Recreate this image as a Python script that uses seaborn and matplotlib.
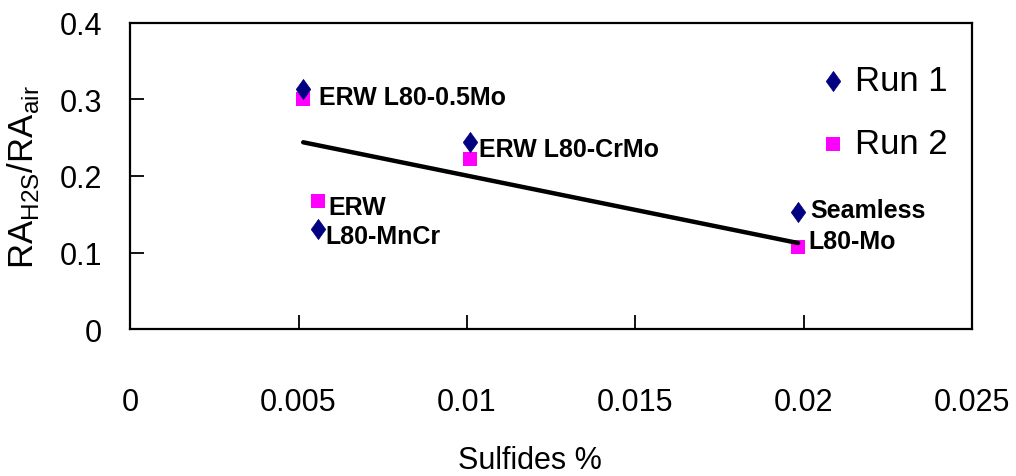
import matplotlib
matplotlib.use("Agg")
import matplotlib.pyplot as plt
from matplotlib.path import Path
import seaborn as sns
import pandas as pd

# Sulfide content of each pipe grade and the ratio measured in two runs
grades = ["ERW L80-0.5Mo", "ERW L80-CrMo", "ERW L80-MnCr", "Seamless L80-Mo"]
sulfides = [0.00514, 0.0101, 0.00558, 0.01983]
run1 = [0.314, 0.244, 0.131, 0.153]
run2 = [0.300, 0.222, 0.167, 0.107]

# Point labels: (text, x, y) anchors in data units next to the markers
point_labels = [
    ("ERW L80-0.5Mo", 0.00560, 0.303),
    ("ERW L80-CrMo", 0.01035, 0.235),
    ("ERW", 0.00590, 0.159),
    ("L80-MnCr", 0.00580, 0.121),
    ("Seamless", 0.02020, 0.156),
    ("L80-Mo", 0.02013, 0.115),
]
x_ticks = [0, 0.005, 0.01, 0.015, 0.02, 0.025]
x_tick_labels = ["0", "0.005", "0.01", "0.015", "0.02", "0.025"]
y_ticks = [0, 0.1, 0.2, 0.3, 0.4]
y_tick_labels = ["0", "0.1", "0.2", "0.3", "0.4"]

sns.set_style("white")
plt.rcParams["font.family"] = ["Liberation Sans", "DejaVu Sans"]
plt.rcParams["mathtext.fontset"] = "custom"
plt.rcParams["mathtext.rm"] = "Liberation Sans"
plt.rcParams["text.color"] = "black"
plt.rcParams["axes.labelcolor"] = "black"
plt.rcParams["xtick.color"] = "black"
plt.rcParams["ytick.color"] = "black"

# Narrow diamond marker, taller than it is wide
diamond = Path([(0, 1), (0.72, 0), (0, -1), (-0.72, 0), (0, 1)],
               [Path.MOVETO, Path.LINETO, Path.LINETO, Path.LINETO, Path.CLOSEPOLY])

df = pd.DataFrame({"grade": grades, "sulfides": sulfides, "run1": run1, "run2": run2})

fig = plt.figure(figsize=(10.16, 4.77), dpi=100)
ax = fig.add_axes([0.128, 0.308, 0.829, 0.642])

sns.scatterplot(data=df, x="sulfides", y="run1", marker=diamond, s=210,
                color="#000080", edgecolor="#000080", linewidth=0.5,
                label="Run 1", ax=ax, zorder=3)
sns.scatterplot(data=df, x="sulfides", y="run2", marker="s", s=95,
                color="#FF00FF", edgecolor="#FF00FF", linewidth=0,
                label="Run 2", ax=ax, zorder=2)
# Linear trend fitted to the second run
sns.regplot(data=df, x="sulfides", y="run2", scatter=False, ci=None,
            truncate=True, color="black", line_kws={"linewidth": 3.2}, ax=ax)

for text, lx, ly in point_labels:
    ax.text(lx, ly, text, fontsize=18, fontweight="bold", ha="left",
            va="center", color="black")

ax.set_xlim(0, 0.025)
ax.set_ylim(0, 0.4)
ax.set_xticks(x_ticks)
ax.set_xticklabels(x_tick_labels)
ax.set_yticks(y_ticks)
ax.set_yticklabels(y_tick_labels)
ax.tick_params(axis="x", direction="in", length=10, width=1.3, pad=42,
               labelsize=22, bottom=True, top=False)
ax.tick_params(axis="y", direction="in", length=10, width=1.3, pad=20,
               labelsize=22, left=True, right=False)

for sp in ax.spines.values():
    sp.set_visible(True)
    sp.set_color("black")
    sp.set_linewidth(1.6)

ax.set_xlabel("Sulfides %", fontsize=22)
ax.xaxis.set_label_coords(0.475, -0.378)
ax.set_ylabel(r"RA$_{\mathregular{H2S}}$/RA$_{\mathregular{air}}$", fontsize=25)
ax.yaxis.set_label_coords(-0.106, 0.5)

ax.legend(loc="upper left", bbox_to_anchor=(0.822, 0.865), frameon=False,
          fontsize=25, borderpad=0, borderaxespad=0, handlelength=0.6,
          handletextpad=0.35, labelspacing=0.85, markerscale=1.0)

fig.savefig("out.png", dpi=100)
